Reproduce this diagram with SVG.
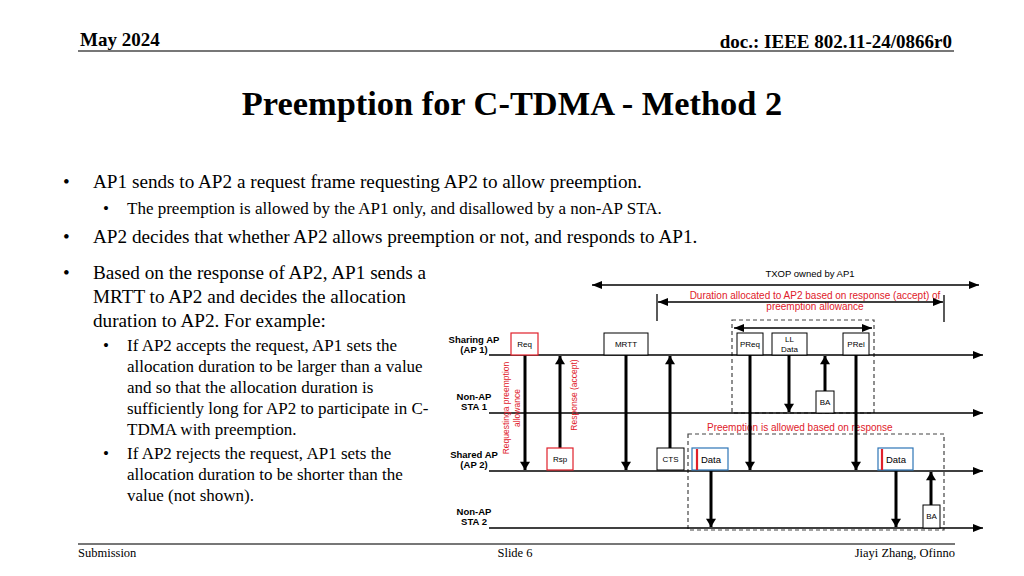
<svg xmlns="http://www.w3.org/2000/svg" width="1024" height="576" viewBox="0 0 1024 576">
<style>
.serif{font-family:"Liberation Serif","Times New Roman",serif;fill:#000}
.hdr{font-size:19px;font-weight:bold}
.b1{font-size:19.2px}
.b2{font-size:17px}
.ftr{font-size:12.5px}
.lbl{font-family:"Liberation Sans",Arial,sans-serif;font-size:9.5px;font-weight:bold;fill:#000;text-anchor:middle}
.box{fill:#fff;stroke:#000;stroke-width:1}
.rbox{fill:#fff;stroke:#e0202a;stroke-width:1.2}
.bbox{fill:#fff;stroke:#2e75b6;stroke-width:1.2}
.bt{font-family:"Liberation Sans",Arial,sans-serif;font-size:8px;fill:#000;text-anchor:middle}
.dt{font-family:"Liberation Sans",Arial,sans-serif;font-size:9.5px;fill:#000;text-anchor:middle}
.red{font-family:"Liberation Sans",Arial,sans-serif;font-size:10px;fill:#e0202a}
.rot{font-family:"Liberation Sans",Arial,sans-serif;font-size:8.5px;fill:#e0202a;text-anchor:middle}
.tl{stroke:#000;stroke-width:1.3;fill:none}
.va{stroke:#000;stroke-width:3;fill:none}
.dash{stroke:#444;stroke-width:1.2;fill:none;stroke-dasharray:4,3}
</style>
<defs>
<marker id="ah" viewBox="0 0 10 8" refX="10" refY="4" markerWidth="10" markerHeight="8" markerUnits="userSpaceOnUse" orient="auto">
<path d="M0,0 L10,4 L0,8 z" fill="#000"/>
</marker>
<marker id="ahs" viewBox="0 0 10 8" refX="10" refY="4" markerWidth="10" markerHeight="8" markerUnits="userSpaceOnUse" orient="auto-start-reverse">
<path d="M0,0 L10,4 L0,8 z" fill="#000"/>
</marker>
<marker id="vah" viewBox="0 0 10 12" refX="10" refY="6" markerWidth="12" markerHeight="10" markerUnits="userSpaceOnUse" orient="auto">
<path d="M0,0 L10,6 L0,12 z" fill="#000"/>
</marker>
</defs>

<g id="header">
<text class="serif hdr" x="80" y="46">May 2024</text>
<text class="serif hdr" x="952" y="48" text-anchor="end">doc.: IEEE 802.11-24/0866r0</text>
<line x1="78" y1="51" x2="954" y2="51" stroke="#777" stroke-width="2"/>
</g>

<g id="title">
<text class="serif" x="512" y="115" font-size="34.4" font-weight="bold" text-anchor="middle">Preemption for C-TDMA - Method 2</text>
</g>

<g id="bullets">
<text class="serif b1" x="63" y="188">•</text>
<text class="serif b1" x="93" y="188">AP1 sends to AP2 a request frame requesting AP2 to allow preemption.</text>
<text class="serif b2" x="103" y="214">•</text>
<text class="serif b2" x="127" y="214">The preemption is allowed by the AP1 only, and disallowed by a non-AP STA.</text>
<text class="serif b1" x="63" y="243">•</text>
<text class="serif b1" x="93" y="243">AP2 decides that whether AP2 allows preemption or not, and responds to AP1.</text>
<text class="serif b1" x="63" y="279">•</text>
<text class="serif b1" x="93" y="279">Based on the response of AP2, AP1 sends a</text>
<text class="serif b1" x="93" y="303">MRTT to AP2 and decides the allocation</text>
<text class="serif b1" x="93" y="327">duration to AP2. For example:</text>
<text class="serif b2" x="103" y="351">•</text>
<text class="serif b2" x="127" y="351">If AP2 accepts the request, AP1 sets the</text>
<text class="serif b2" x="127" y="372">allocation duration to be larger than a value</text>
<text class="serif b2" x="127" y="393">and so that the allocation duration is</text>
<text class="serif b2" x="127" y="414">sufficiently long for AP2 to participate in C-</text>
<text class="serif b2" x="127" y="435">TDMA with preemption.</text>
<text class="serif b2" x="103" y="459">•</text>
<text class="serif b2" x="127" y="459">If AP2 rejects the request, AP1 sets the</text>
<text class="serif b2" x="127" y="480">allocation duration to be shorter than the</text>
<text class="serif b2" x="127" y="501">value (not shown).</text>
</g>

<g id="footer">
<line x1="78" y1="544" x2="955" y2="544" stroke="#777" stroke-width="2"/>
<text class="serif ftr" x="78" y="557">Submission</text>
<text class="serif ftr" x="515" y="557" text-anchor="middle">Slide 6</text>
<text class="serif ftr" x="955" y="557" text-anchor="end">Jiayi Zhang, Ofinno</text>
</g>

<g id="timeline-labels">
<text class="lbl" x="474" y="343">Sharing AP</text>
<text class="lbl" x="474" y="353">(AP 1)</text>
<text class="lbl" x="474" y="400">Non-AP</text>
<text class="lbl" x="474" y="410">STA 1</text>
<text class="lbl" x="474" y="458">Shared AP</text>
<text class="lbl" x="474" y="468">(AP 2)</text>
<text class="lbl" x="474" y="515">Non-AP</text>
<text class="lbl" x="474" y="525">STA 2</text>
</g>

<g id="txop">
<text class="dt" x="810" y="277">TXOP owned by AP1</text>
<line class="tl" x1="592" y1="285" x2="979" y2="285" marker-start="url(#ahs)" marker-end="url(#ah)"/>
</g>

<g id="duration">
<text class="red" x="815" y="299" text-anchor="middle">Duration allocated to AP2 based on response (accept) of</text>
<text class="red" x="815" y="310" text-anchor="middle">preemption allowance</text>
<line class="tl" x1="657" y1="294" x2="657" y2="321"/>
<line class="tl" x1="944" y1="295" x2="944" y2="322"/>
<line class="tl" x1="658" y1="302" x2="943" y2="302" marker-start="url(#ahs)" marker-end="url(#ah)"/>
</g>

<g id="preempt-window-1">
<rect class="dash" x="732" y="320" width="142" height="93"/>
<line class="tl" x1="734" y1="328" x2="872" y2="328" marker-start="url(#ahs)" marker-end="url(#ah)"/>
</g>

<g id="preempt-window-2">
<text class="red" x="707" y="431">Preemption is allowed based on response</text>
<rect class="dash" x="688" y="434" width="256" height="96"/>
</g>

<g id="timelines">
<line class="tl" x1="489" y1="355" x2="983" y2="355" marker-end="url(#ah)"/>
<line class="tl" x1="489" y1="413" x2="983" y2="413" marker-end="url(#ah)"/>
<line class="tl" x1="489" y1="471" x2="983" y2="471" marker-end="url(#ah)"/>
<line class="tl" x1="489" y1="528" x2="983" y2="528" marker-end="url(#ah)"/>
</g>

<g id="connectors">
<line class="va" x1="525" y1="355" x2="525" y2="470" marker-end="url(#vah)"/>
<line class="va" x1="560" y1="448" x2="560" y2="356" marker-end="url(#vah)"/>
<line class="va" x1="626" y1="355" x2="626" y2="470" marker-end="url(#vah)"/>
<line class="va" x1="670" y1="448" x2="670" y2="356" marker-end="url(#vah)"/>
<line class="va" x1="750" y1="355" x2="750" y2="470" marker-end="url(#vah)"/>
<line class="va" x1="789" y1="355" x2="789" y2="412" marker-end="url(#vah)"/>
<line class="va" x1="825" y1="391" x2="825" y2="356" marker-end="url(#vah)"/>
<line class="va" x1="856" y1="355" x2="856" y2="470" marker-end="url(#vah)"/>
<line class="va" x1="711" y1="471" x2="711" y2="527" marker-end="url(#vah)"/>
<line class="va" x1="896" y1="471" x2="896" y2="527" marker-end="url(#vah)"/>
<line class="va" x1="931" y1="505" x2="931" y2="472" marker-end="url(#vah)"/>
</g>

<g id="rotated-labels">
<text class="rot" transform="translate(509,408) rotate(-90)">Requestinga preemption</text>
<text class="rot" transform="translate(520,408) rotate(-90)">allowance</text>
<text class="rot" transform="translate(577,395) rotate(-90)">Response (accept)</text>
</g>

<g id="node-req"><rect class="rbox" x="511" y="333" width="27" height="22"/><text class="bt" x="524.5" y="347">Req</text></g>
<g id="node-mrtt"><rect class="box" x="604" y="333" width="44" height="22"/><text class="bt" x="626" y="347">MRTT</text></g>
<g id="node-preq"><rect class="box" x="737" y="333" width="26" height="22"/><text class="bt" x="750" y="347">PReq</text></g>
<g id="node-lldata"><rect class="box" x="772" y="333" width="35" height="22"/><text class="bt" x="789.5" y="342">LL</text><text class="bt" x="789.5" y="352">Data</text></g>
<g id="node-prel"><rect class="box" x="843" y="333" width="26" height="22"/><text class="bt" x="856" y="347">PRel</text></g>
<g id="node-ba1"><rect class="box" x="816" y="391" width="18" height="22"/><text class="bt" x="825" y="405">BA</text></g>
<g id="node-rsp"><rect class="rbox" x="547" y="448" width="26" height="22"/><text class="bt" x="560" y="462">Rsp</text></g>
<g id="node-cts"><rect class="box" x="657" y="448" width="27" height="22"/><text class="bt" x="670.5" y="462">CTS</text></g>
<g id="node-data1"><rect class="bbox" x="692" y="448" width="36" height="22"/><line x1="697" y1="449" x2="697" y2="470" stroke="#e0202a" stroke-width="2.2"/><text class="dt" x="711" y="463">Data</text></g>
<g id="node-data2"><rect class="bbox" x="878" y="448" width="35" height="22"/><line x1="882" y1="449" x2="882" y2="470" stroke="#e0202a" stroke-width="2.2"/><text class="dt" x="896" y="463">Data</text></g>
<g id="node-ba2"><rect class="box" x="923" y="505" width="17" height="23"/><text class="bt" x="931.5" y="519">BA</text></g>
</svg>
